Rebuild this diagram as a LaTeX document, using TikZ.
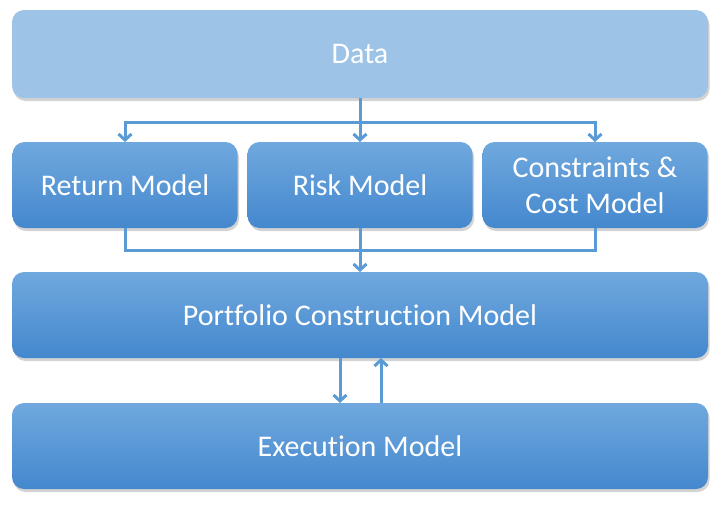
\documentclass[tikz,border=0pt]{standalone}
\usepackage{fontspec}
\setmainfont{Carlito}[RawFeature={-liga;-clig}]
\definecolor{data}{RGB}{157,195,230}
\definecolor{mtop}{RGB}{112,168,222}
\definecolor{mbot}{RGB}{68,136,206}
\definecolor{flow}{RGB}{91,155,213}
\usetikzlibrary{
  positioning,     % positions like below of node
  calc,            % split and join points
  shadows,         % drop shadows of the boxes
  arrows.meta      % open arrow tips
}
\tikzset{
  every node/.style = {
    rectangle,
    rounded corners=12pt,
    text=white,
    font=\fontsize{30}{36}\selectfont,
    align=center,
    outer sep=0pt,
    inner sep=3pt,
    drop shadow={shadow xshift=1.5pt, shadow yshift=-3pt, opacity=0.35}
  },
  data/.append style = {fill=data, minimum width=696pt, minimum height=88pt},
  model/.append style = {top color=mtop, bottom color=mbot,
    minimum height=86pt},
  small/.append style = {minimum width=225pt},
  wide/.append style = {minimum width=696pt},
  flow/.style = {draw=flow, line width=3pt},
  >={Straight Barb[length=6pt,width=13pt]}
}
\begin{document}
\begin{tikzpicture}[x=1pt,y=-1pt]
  \useasboundingbox (0,0) rectangle (725,504);

  %% nodes
  \node[data] (DA) at (360,54) {Data};

  \node[model,small] (RI) [below=44pt of DA] {Risk Model};
  \node[model,small] (RE) [left=10pt of RI] {Return Model};
  \node[model,small] (CO) [right=10pt of RI] {Constraints \&\\Cost Model};

  \node[model,wide] (PC) [below=44pt of RI] {Portfolio Construction Model};

  \node[model,wide] (EX) [below=45pt of PC] {Execution Model};

  \coordinate (split) at ($(DA.south)!0.55!(RI.north)$);
  \coordinate (join) at ($(RI.south)!0.5!(PC.north)$);

  %% arrows
  \draw[flow,->] (DA.south) -- (RI.north);
  \draw[flow,->] (split) -| (RE.north);
  \draw[flow,->] (split) -| (CO.north);

  \draw[flow] (RE.south) |- (join);
  \draw[flow] (CO.south) |- (join);
  \draw[flow,->] (RI.south) -- (PC.north);

  \draw[flow,->] ([xshift=-20pt]PC.south) -- ([xshift=-20pt]EX.north);
  \draw[flow,->] ([xshift=21pt]EX.north) -- ([xshift=21pt]PC.south);

\end{tikzpicture}
\end{document}
